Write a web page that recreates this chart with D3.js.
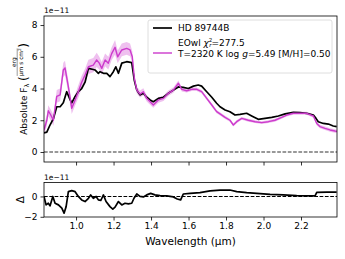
<!DOCTYPE html>
<html><head><meta charset="utf-8">
<script src="https://cdn.jsdelivr.net/npm/d3@7"></script>
<style>body{margin:0;background:#fff}svg{display:block;font-family:"DejaVu Sans",sans-serif}</style>
</head><body><svg id="c" width="345" height="259"></svg>
<script>
// ---- data (flux in units of 1e-11) ----
const obsWave = [0.829,0.844,0.861,0.879,0.897,0.915,0.932,0.950,0.968,0.977,0.995,1.012,1.030,1.048,1.066,1.092,1.101,1.119,1.128,1.146,1.164,1.181,1.199,1.212,1.226,1.244,1.270,1.297,1.311,1.324,1.341,1.359,1.377,1.395,1.412,1.439,1.466,1.492,1.519,1.546,1.572,1.599,1.626,1.652,1.670,1.697,1.724,1.750,1.768,1.795,1.821,1.848,1.875,1.910,1.937,1.972,2.008,2.044,2.079,2.115,2.159,2.195,2.230,2.266,2.280,2.292,2.319,2.346,2.372,2.390];
const obsFlux = [1.2,1.25,1.7,2.1,2.85,2.85,3.1,3.8,3.3,3.1,3.5,3.8,4.0,4.4,5.27,5.2,5.17,4.96,5.06,4.96,4.96,4.75,5.06,5.37,4.96,5.6,5.69,5.63,4.5,3.9,3.6,3.7,3.45,3.28,3.17,3.38,3.45,3.7,3.9,4.1,4.07,4.0,4.15,4.22,4.15,3.8,3.45,3.07,2.85,2.65,2.54,2.33,2.37,2.44,2.27,2.06,2.12,2.18,2.27,2.4,2.5,2.48,2.44,2.33,2.12,1.91,1.8,1.76,1.64,1.6];
const modelWave = [0.829,0.844,0.852,0.865,0.879,0.897,0.915,0.932,0.941,0.959,0.977,0.995,1.012,1.030,1.048,1.066,1.092,1.110,1.124,1.137,1.155,1.172,1.190,1.208,1.222,1.244,1.270,1.288,1.300,1.311,1.324,1.341,1.359,1.377,1.395,1.412,1.439,1.466,1.492,1.519,1.546,1.564,1.590,1.617,1.644,1.670,1.697,1.724,1.750,1.768,1.795,1.821,1.839,1.857,1.884,1.919,1.955,1.990,2.026,2.061,2.097,2.124,2.159,2.195,2.230,2.266,2.284,2.301,2.328,2.355,2.381,2.392];
const modelFlux = [1.39,2.0,2.6,2.33,2.0,3.5,3.6,5.17,5.3,4.1,2.75,3.28,3.8,4.4,4.85,5.37,5.48,5.8,5.6,5.27,5.8,5.6,6.2,6.6,6.0,6.43,6.53,6.43,6.0,4.64,3.9,3.65,3.8,3.38,3.17,2.96,3.28,3.38,3.7,3.9,4.33,3.95,3.86,3.95,3.95,3.8,3.38,2.96,2.54,2.4,2.18,2.0,1.7,1.91,2.12,2.0,1.91,1.85,1.91,2.0,2.18,2.33,2.44,2.44,2.44,2.27,1.8,1.6,1.49,1.39,1.32,1.3];
const modelErr = [0.3,0.35,0.35,0.35,0.35,0.4,0.4,0.45,0.45,0.4,0.35,0.35,0.4,0.4,0.4,0.45,0.45,0.45,0.4,0.4,0.4,0.4,0.4,0.45,0.4,0.4,0.4,0.4,0.35,0.28,0.22,0.22,0.22,0.2,0.2,0.17,0.17,0.17,0.17,0.17,0.17,0.13,0.11,0.11,0.11,0.11,0.11,0.11,0.1,0.1,0.1,0.1,0.1,0.1,0.09,0.09,0.09,0.09,0.09,0.09,0.09,0.09,0.09,0.09,0.09,0.11,0.11,0.11,0.11,0.11,0.11,0.11];
const resWave = [0.829,0.840,0.852,0.861,0.876,0.888,0.906,0.924,0.936,0.947,0.959,0.977,0.995,1.012,1.030,1.048,1.066,1.078,1.092,1.107,1.119,1.132,1.146,1.160,1.181,1.196,1.208,1.226,1.244,1.261,1.279,1.297,1.309,1.324,1.341,1.359,1.377,1.398,1.421,1.448,1.484,1.519,1.540,1.558,1.572,1.608,1.661,1.715,1.768,1.821,1.857,1.910,1.964,2.035,2.106,2.177,2.248,2.275,2.284,2.337,2.390];
const resFlux = [0,-0.83,-0.67,-0.93,0,-0.67,-0.83,-1.15,-1.64,-1.0,0.47,0.57,0.47,0,-0.34,-0.5,-0.18,0.15,-0.18,0,-0.34,-0.4,0.15,-0.5,-1.0,-1.25,-1.05,-0.5,-0.83,-0.67,-0.73,-0.67,-0.18,0.24,0,-0.05,0.15,0.3,0.15,0.08,0.05,-0.05,-0.25,-0.34,0.24,0.31,0.37,0.54,0.63,0.63,0.47,0.37,0.31,0.2,0.15,0.08,0.05,0.05,0.4,0.43,0.43];
const xTicks = [1.0,1.2,1.4,1.6,1.8,2.0,2.2];
const yTicksTop = [0,2,4,6,8];
const yTicksRes = [-2,0];
const obsLabel = "HD 89744B";
const modelLabel1 = "EOwl";
const chi2 = "277.5";
const modelLabel2 = ["T=2320 K log ", "g", "=5.49 [M/H]=0.50"];

// ---- layout ----
const svg = d3.select("#c");
const L = 44, R = 337;
const top1 = 16, bot1 = 162, top2 = 182.5, bot2 = 217;
const BLACK = "#000", MAG = "#cc3acc";

const x = d3.scaleLinear().domain([0.829, 2.392]).range([L, R]);
const y1 = d3.scaleLinear().domain([-0.63, 8.57]).range([bot1, top1]);
const y2 = d3.scaleLinear().domain([-2.02, 1.37]).range([bot2, top2]);

const defs = svg.append("defs");
defs.append("clipPath").attr("id","cp1").append("rect").attr("x",L).attr("y",top1).attr("width",R-L).attr("height",bot1-top1);
defs.append("clipPath").attr("id","cp2").append("rect").attr("x",L).attr("y",top2).attr("width",R-L).attr("height",bot2-top2);

// ---- top panel ----
const g1 = svg.append("g").attr("clip-path","url(#cp1)");
g1.append("line").attr("x1",L).attr("x2",R).attr("y1",y1(0)).attr("y2",y1(0))
  .attr("stroke","#333").attr("stroke-width",1.2).attr("stroke-dasharray","3.7,1.6");
const band = d3.area().x((d,i)=>x(modelWave[i])).y0((d,i)=>y1(modelFlux[i]-modelErr[i])).y1((d,i)=>y1(modelFlux[i]+modelErr[i]));
g1.append("path").attr("d", band(modelWave)).attr("fill",MAG).attr("opacity",0.32);
const line1 = (w,f,ys)=>d3.line().x((d,i)=>x(w[i])).y((d,i)=>ys(f[i]))(w);
g1.append("path").attr("d", line1(obsWave,obsFlux,y1)).attr("fill","none").attr("stroke",BLACK).attr("stroke-width",1.7).attr("stroke-linejoin","round");
g1.append("path").attr("d", line1(modelWave,modelFlux,y1)).attr("fill","none").attr("stroke",MAG).attr("stroke-width",1.4).attr("stroke-linejoin","round");

function styleAxis(g){
  g.selectAll("path.domain").remove();
  g.selectAll(".tick line").attr("stroke","#000").attr("stroke-width",0.8);
  g.selectAll(".tick text").attr("font-size",9).attr("font-family","DejaVu Sans").attr("fill","#000");
}
svg.append("g").attr("transform",`translate(0,${bot1})`)
  .call(d3.axisBottom(x).tickValues(xTicks).tickSize(3.5).tickFormat("")).call(styleAxis);
svg.append("g").attr("transform",`translate(${L},0)`)
  .call(d3.axisLeft(y1).tickValues(yTicksTop).tickSize(3.5).tickPadding(3).tickFormat(d3.format("d"))).call(styleAxis);
svg.append("rect").attr("x",L).attr("y",top1).attr("width",R-L).attr("height",bot1-top1).attr("fill","none").attr("stroke","#000").attr("stroke-width",0.8);
svg.append("text").attr("x",L).attr("y",13).attr("font-size",7.5).text("1e\u221211");

// legend
const lg = svg.append("g");
lg.append("rect").attr("x",148).attr("y",20).attr("width",184).attr("height",53).attr("rx",2)
  .attr("fill","#fff").attr("fill-opacity",0.8).attr("stroke","#d6d6d6").attr("stroke-width",0.8);
lg.append("line").attr("x1",153).attr("x2",172).attr("y1",28).attr("y2",28).attr("stroke",BLACK).attr("stroke-width",1.7);
lg.append("text").attr("x",178).attr("y",31.2).attr("font-size",9).text(obsLabel);
const t2 = lg.append("text").attr("x",178).attr("y",45.5).attr("font-size",9);
t2.append("tspan").text(modelLabel1+" ");
t2.append("tspan").attr("font-style","italic").text("\u03c7");
t2.append("tspan").attr("font-size",5.5).attr("dy",-3.5).text("2");
t2.append("tspan").attr("font-size",5.5).attr("font-style","italic").attr("dx",-3.2).attr("dy",5).text("r");
t2.append("tspan").attr("dy",-1.5).text("="+chi2);
lg.append("line").attr("x1",153).attr("x2",172).attr("y1",53).attr("y2",53).attr("stroke",MAG).attr("stroke-width",1.4);
const t3 = lg.append("text").attr("x",178).attr("y",56.5).attr("font-size",9);
t3.append("tspan").text(modelLabel2[0]);
t3.append("tspan").attr("font-style","italic").text(modelLabel2[1]);
t3.append("tspan").text(modelLabel2[2]);

// ---- residual panel ----
const g2 = svg.append("g").attr("clip-path","url(#cp2)");
g2.append("line").attr("x1",L).attr("x2",R).attr("y1",y2(0)).attr("y2",y2(0))
  .attr("stroke","#000").attr("stroke-width",1.1).attr("stroke-dasharray","3.7,1.6");
g2.append("path").attr("d", line1(resWave,resFlux,y2)).attr("fill","none").attr("stroke",BLACK).attr("stroke-width",1.7).attr("stroke-linejoin","round");
svg.append("g").attr("transform",`translate(0,${bot2})`)
  .call(d3.axisBottom(x).tickValues(xTicks).tickSize(3.5).tickPadding(2).tickFormat(d3.format(".1f"))).call(styleAxis);
svg.append("g").attr("transform",`translate(${L},0)`)
  .call(d3.axisLeft(y2).tickValues(yTicksRes).tickSize(3.5).tickPadding(3).tickFormat(d=>d<0?"\u2212"+Math.abs(d):d)).call(styleAxis);
svg.append("rect").attr("x",L).attr("y",top2).attr("width",R-L).attr("height",bot2-top2).attr("fill","none").attr("stroke","#000").attr("stroke-width",0.8);
svg.append("text").attr("x",L).attr("y",179.5).attr("font-size",7.5).text("1e\u221211");

// axis labels
svg.append("text").attr("x",(L+R)/2).attr("y",245).attr("text-anchor","middle").attr("font-size",10.5).text("Wavelength (\u00b5m)");
svg.append("text").attr("transform",`translate(24,${(top2+bot2)/2}) rotate(-90)`).attr("text-anchor","middle").attr("font-size",10.5).text("\u0394");

// y label with fraction
const yl = svg.append("g").attr("transform",`translate(27,89) rotate(-90)`);
const inner = yl.append("g");
const a = inner.append("text").attr("x",0).attr("y",0).attr("font-size",9);
a.append("tspan").text("Absolute F");
a.append("tspan").attr("font-size",6.5).attr("dy",2).text("\u03bb");
let cx = a.node().getComputedTextLength() + 2.5;
const lp = inner.append("text").attr("x",cx).attr("y",1).attr("font-size",12).text("(");
cx += lp.node().getComputedTextLength() + 0.5;
const den = inner.append("text").attr("y",-4.3).attr("font-size",5.8).attr("text-anchor","middle");
den.append("tspan").text("\u00b5m s cm");
den.append("tspan").attr("font-size",4.2).attr("dy",-2).text("2");
const dw = den.node().getComputedTextLength();
const num = inner.append("text").attr("y",-11.3).attr("font-size",5.8).attr("text-anchor","middle").text("erg");
den.attr("x",cx+dw/2); num.attr("x",cx+dw/2);
inner.append("line").attr("x1",cx).attr("x2",cx+dw).attr("y1",-9.8).attr("y2",-9.8).attr("stroke","#000").attr("stroke-width",0.4);
cx += dw + 0.5;
const rp = inner.append("text").attr("x",cx).attr("y",1).attr("font-size",12).text(")");
cx += rp.node().getComputedTextLength();
inner.attr("transform",`translate(${-cx/2},0)`);
</script></body></html>
